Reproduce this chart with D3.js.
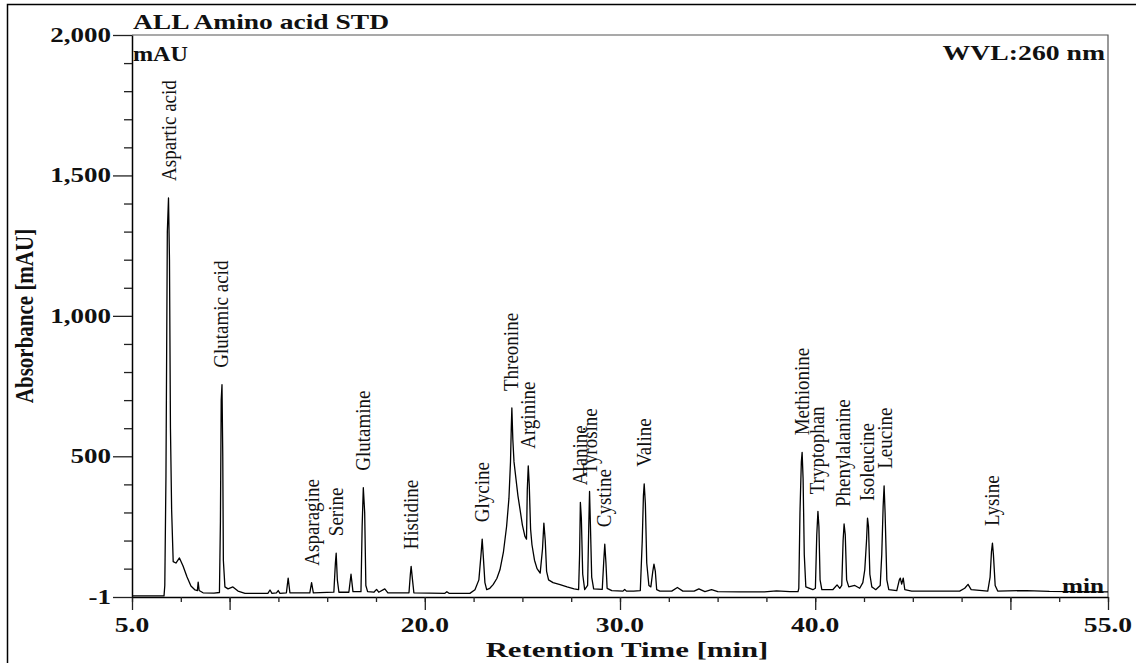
<!DOCTYPE html>
<html>
<head>
<meta charset="utf-8">
<script src="https://d3js.org/d3.v7.min.js"></script>
<style>
  body { margin: 0; background: #fff; }
  text { font-family: "Liberation Serif", "Times New Roman", serif; fill: #111; }
</style>
</head>
<body>
<div id="chart"></div>
<script>
// chromatogram trace: retention time (min) and absorbance (mAU)
var traceTime = [5.00, 6.64, 6.68, 6.74, 6.81, 6.87, 6.92, 6.97, 7.03, 7.11, 7.25, 7.43, 7.61, 7.82, 8.02, 8.23, 8.35, 8.39, 8.44, 8.64,
  9.20, 9.48, 9.53, 9.57, 9.61, 9.65, 9.68, 9.76, 9.92, 10.17, 10.43, 10.79, 11.96, 12.07, 12.17, 12.40, 12.49, 12.58,
  12.91, 13.00, 13.09, 14.11, 14.20, 14.29, 15.34, 15.42, 15.46, 15.52, 15.60, 16.11, 16.22, 16.32,
  16.73, 16.79, 16.85, 16.92, 16.98, 17.07, 17.39, 17.53, 17.64, 17.95, 18.11, 19.19, 19.26, 19.30, 19.37, 19.44,
  21.03, 21.13, 21.24, 22.31, 22.57, 22.77, 22.88, 22.94, 23.00, 23.08, 23.17, 23.33, 23.50, 23.69, 23.85, 24.03,
  24.19, 24.31, 24.39, 24.43, 24.46, 24.51, 24.57, 24.67, 24.77, 24.88, 25.00, 25.13, 25.21, 25.25, 25.30, 25.35,
  25.42, 25.49, 25.62, 25.75, 25.91, 26.03, 26.10, 26.17, 26.24, 26.34, 26.57, 26.93, 27.29, 27.65, 27.88,
  27.93, 27.97, 28.02, 28.09, 28.19, 28.34, 28.40, 28.44, 28.49, 28.55, 28.65, 29.09, 29.17, 29.22, 29.28, 29.34,
  29.58, 30.15, 30.24, 30.33, 30.70, 31.04, 31.14, 31.20, 31.24, 31.30, 31.37, 31.48, 31.58, 31.68, 31.74, 31.81,
  31.88, 32.04, 32.65, 32.94, 33.22, 33.80, 34.04, 34.35, 34.69, 35.01, 36.14, 37.40, 38.02, 38.70, 39.12,
  39.16, 39.22, 39.29, 39.33, 39.38, 39.44, 39.52, 39.88, 40.01, 40.08, 40.14, 40.19, 40.25, 40.34, 40.90,
  41.12, 41.26, 41.36, 41.43, 41.48, 41.54, 41.61, 41.72, 42.03, 42.28, 42.44, 42.54, 42.63, 42.68, 42.73,
  42.80, 42.90, 43.00, 43.10, 43.33, 43.41, 43.48, 43.53, 43.58, 43.67, 43.77, 44.18, 44.31, 44.36, 44.43,
  44.51, 44.59, 44.94, 47.40, 47.66, 47.83, 47.99, 48.84, 48.96, 49.03, 49.08, 49.13, 49.22, 49.35, 50.82, 52.00, 55.00];
var traceAbs = [3, 3, 40, 430, 1300, 1420, 1200, 600, 310, 125, 120, 138, 110, 70, 38, 24, 22, 52, 22, 14,
  13, 15, 270, 700, 755, 500, 130, 35, 28, 35, 20, 12, 12, 24, 12, 14, 22, 12,
  14, 66, 14, 14, 50, 14, 16, 120, 155, 60, 16, 16, 80, 18,
  18, 250, 388, 300, 40, 18, 16, 26, 16, 28, 14, 14, 80, 108, 60, 14,
  12, 18, 12, 12, 25, 60, 150, 205, 140, 50, 25, 30, 43, 65, 96, 160,
  250, 350, 480, 600, 672, 560, 480, 420, 360, 310, 255, 215, 205, 380, 466, 400,
  240, 185, 130, 100, 84, 170, 262, 200, 90, 60, 50, 43, 35, 28, 25,
  150, 336, 280, 80, 25, 40, 250, 375, 240, 70, 28, 26, 130, 187, 120, 30,
  22, 20, 26, 20, 20, 22, 200, 360, 402, 330, 120, 40, 35, 90, 116, 90,
  25, 20, 20, 33, 20, 20, 28, 18, 25, 18, 17, 17, 21, 18, 18,
  30, 300, 480, 514, 420, 150, 35, 25, 30, 220, 304, 250, 60, 25, 25,
  42, 30, 40, 200, 259, 220, 60, 35, 40, 30, 50, 96, 200, 280, 250,
  80, 35, 30, 25, 40, 150, 320, 395, 300, 60, 25, 22, 60, 66, 45,
  66, 25, 20, 20, 30, 44, 25, 20, 70, 160, 191, 150, 40, 20, 22, 19, 17];

// named peaks: retention time (min) and apex height (mAU)
var peakNames = ["Aspartic acid", "Glutamic acid", "Asparagine", "Serine", "Glutamine", "Histidine", "Glycine",
  "Threonine", "Arginine", "Alanine", "Tyrosine", "Cystine", "Valine", "Methionine", "Tryptophan",
  "Phenylalanine", "Isoleucine", "Leucine", "Lysine"];
var peakTime = [6.89, 9.58, 14.22, 15.47, 16.86, 19.31, 22.96, 24.43, 25.29, 27.95, 28.47, 29.21, 31.24,
  39.33, 40.10, 41.46, 42.66, 43.58, 49.06];
var peakHeight = [1420, 755, 50, 155, 388, 108, 205, 672, 466, 336, 375, 187, 402, 514, 304, 259, 280, 395, 191];

var xTickLabels = [5, 20, 30, 40, 55];
var yTickLabels = [-1, 500, 1000, 1500, 2000];

var width = 1136, height = 663;
var svg = d3.select("#chart").append("svg")
    .attr("width", width)
    .attr("height", height);

svg.append("rect").attr("width", width).attr("height", height).attr("fill", "#fff");

// outer picture border (left + top)
svg.append("path")
    .attr("d", "M7.5,663V4.5H1136")
    .attr("fill", "none")
    .attr("stroke", "#000")
    .attr("stroke-width", 1.5);

var x = d3.scaleLinear().domain([5, 55]).range([132, 1108]);
var y = d3.scaleLinear().domain([-1, 2000]).range([597, 35]);

// plot frame top and right
svg.append("path")
    .attr("d", "M" + x(5) + "," + y(2000) + "H" + x(55) + "V" + y(-1))
    .attr("fill", "none")
    .attr("stroke", "#555")
    .attr("stroke-width", 1.2);

// x axis: minor ticks every 2.5 min, long ticks every 10 min and at the ends
var xMinor = d3.range(5, 55.01, 2.5);
var xMajor = [5, 10, 20, 30, 40, 50, 55];
svg.append("g")
    .attr("transform", "translate(0," + y(-1) + ")")
    .call(d3.axisBottom(x).tickValues(xMinor).tickSize(5).tickSizeOuter(0).tickFormat(""))
    .call(function (g) { g.select(".domain").attr("stroke-width", 1.5); });
svg.append("g")
    .attr("transform", "translate(0," + y(-1) + ")")
    .call(d3.axisBottom(x).tickValues(xMajor).tickSize(13).tickSizeOuter(0).tickFormat(""))
    .call(function (g) { g.select(".domain").remove(); });

// y axis: minor every 100, long at labelled values
var yMinor = d3.range(100, 2000, 100).filter(function (v) { return v % 500 !== 0; });
svg.append("g")
    .attr("transform", "translate(" + x(5) + ",0)")
    .call(d3.axisLeft(y).tickValues(yMinor).tickSize(8).tickSizeOuter(0).tickFormat(""))
    .call(function (g) { g.select(".domain").attr("stroke-width", 1.5); });
svg.append("g")
    .attr("transform", "translate(" + x(5) + ",0)")
    .call(d3.axisLeft(y).tickValues(yTickLabels).tickSize(19).tickSizeOuter(0).tickFormat(""))
    .call(function (g) { g.select(".domain").remove(); });

svg.selectAll(".tick line").attr("stroke", "#222").attr("stroke-width", 1.3);

// text helper: horizontally stretched text like the exported picture
function label(px, py, str, o) {
  var g = svg.append("g")
      .attr("transform", "translate(" + px + "," + py + ") scale(" + (o.sx || 1) + ",1)" + (o.rot ? " rotate(-90)" : ""));
  return g.append("text")
      .attr("text-anchor", o.anchor || "start")
      .attr("dy", o.dy || 0)
      .style("font-size", o.size + "px")
      .style("font-weight", o.bold ? "bold" : "normal")
      .text(str);
}

var fmt = d3.format(",");
yTickLabels.forEach(function (v) {
  label(111, y(v), fmt(v).replace("\u2212", "-"), { size: 20, bold: true, sx: 1.35, anchor: "end", dy: "0.35em" });
});
xTickLabels.forEach(function (v) {
  label(x(v), 632, d3.format(".1f")(v), { size: 20, bold: true, sx: 1.38, anchor: "middle" });
});

label(133, 29, "ALL Amino acid STD", { size: 21, bold: true, sx: 1.31 });
label(133, 61, "mAU", { size: 21, bold: true, sx: 1.15 });
label(1105, 60, "WVL:260 nm", { size: 21, bold: true, sx: 1.32, anchor: "end" });
label(1104, 593, "min", { size: 21, bold: true, sx: 1.2, anchor: "end" });
label(627, 657, "Retention Time [min]", { size: 22, bold: true, sx: 1.4, anchor: "middle" });
label(33, 316, "Absorbance [mAU]", { size: 21, bold: true, sx: 1.2, anchor: "middle", rot: true });

// trace
var trace = traceTime.map(function (t, i) { return [t, traceAbs[i]]; });
svg.append("path")
    .datum(trace)
    .attr("fill", "none")
    .attr("stroke", "#000")
    .attr("stroke-width", 1.3)
    .attr("stroke-linejoin", "round")
    .attr("d", d3.line().x(function (d) { return x(d[0]); }).y(function (d) { return y(d[1]); }));

// peak names, rotated above each apex
peakNames.forEach(function (n, i) {
  label(x(peakTime[i]), y(peakHeight[i]) - 17, n, { size: 19, rot: true, dy: "0.33em", sx: 1.08 });
});
</script>
</body>
</html>
